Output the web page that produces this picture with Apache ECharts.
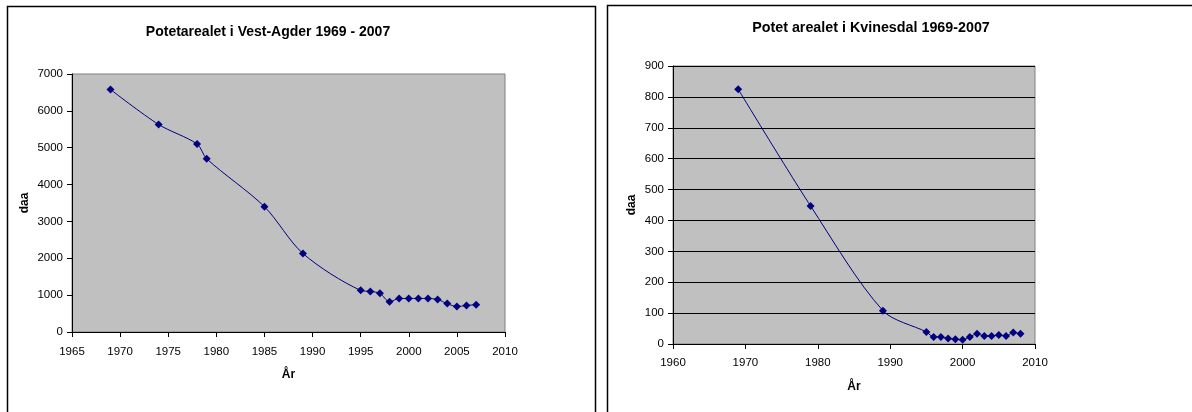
<!DOCTYPE html>
<html>
<head>
<meta charset="utf-8">
<script src="https://cdn.jsdelivr.net/npm/echarts@6/dist/echarts.min.js"></script>
<style>
html,body{margin:0;padding:0;background:#fff;}
#c{width:1192px;height:412px;}
</style>
</head>
<body>
<div id="c"></div>
<script>
// Vest-Agder
const yearsVA = [1969,1974,1978,1979,1985,1989,1995,1996,1997,1998,1999,2000,2001,2002,2003,2004,2005,2006,2007];
const valuesVA = [6580,5630,5100,4700,3400,2130,1130,1100,1050,820,910,910,910,910,880,770,690,720,740];
// Kvinesdal
const yearsKV = [1969,1979,1989,1995,1996,1997,1998,1999,2000,2001,2002,2003,2004,2005,2006,2007,2008];
const valuesKV = [825,447,108,39,23,23,18,15,14,23,33,26,26,29,26,37,33];

const titles = ['Potetarealet i Vest-Agder 1969 - 2007','Potet arealet i Kvinesdal 1969-2007'];
const yName = 'daa';
const xName = 'År';

const font = 'Arial, "Liberation Sans", sans-serif';
const chart = echarts.init(document.getElementById('c'));
const plain = v => String(v);
const axisLabel = {color:'#000', fontSize:11.5, fontFamily:font, formatter:plain};
const nameStyle = {color:'#000', fontSize:12, fontWeight:'bold', fontFamily:font};

chart.setOption({
  animation:false,
  title:[
    {text:titles[0], left:263, top:20, textAlign:'center', textStyle:{fontSize:14, fontWeight:'bold', color:'#000', fontFamily:font}},
    {text:titles[1], left:866, top:16, textAlign:'center', textStyle:{fontSize:14.3, fontWeight:'bold', color:'#000', fontFamily:font}}
  ],
  graphic:[
    {type:'rect', shape:{x:7.5,y:6.5,width:588,height:430}, style:{fill:'none',stroke:'#000',lineWidth:1.5}, z:-10},
    {type:'rect', shape:{x:607.5,y:5.5,width:600,height:430}, style:{fill:'none',stroke:'#000',lineWidth:1.5}, z:-10}
  ],
  grid:[
    {left:72, top:74, width:433, height:258, show:true, backgroundColor:'#c0c0c0', borderColor:'#808080', borderWidth:1},
    {left:673, top:66, width:362, height:278, show:true, backgroundColor:'#c0c0c0', borderColor:'#808080', borderWidth:1}
  ],
  xAxis:[
    {gridIndex:0, type:'value', min:1965, max:2010, interval:5,
     name:xName, nameLocation:'middle', nameGap:37, nameTextStyle:nameStyle,
     axisLine:{lineStyle:{color:'#000'}}, axisTick:{show:true, length:5, lineStyle:{color:'#000'}},
     axisLabel:Object.assign({margin:14}, axisLabel), splitLine:{show:false}},
    {gridIndex:1, type:'value', min:1960, max:2010, interval:10,
     name:xName, nameLocation:'middle', nameGap:37, nameTextStyle:nameStyle,
     axisLine:{lineStyle:{color:'#000'}}, axisTick:{show:true, length:5, lineStyle:{color:'#000'}},
     axisLabel:Object.assign({margin:13}, axisLabel), splitLine:{show:false}}
  ],
  yAxis:[
    {gridIndex:0, type:'value', min:0, max:7000, interval:1000,
     name:yName, nameLocation:'middle', nameGap:41, nameTextStyle:nameStyle,
     axisLine:{show:true, lineStyle:{color:'#000'}}, axisTick:{show:true, length:5, lineStyle:{color:'#000'}},
     axisLabel:Object.assign({margin:9}, axisLabel), splitLine:{show:false}},
    {gridIndex:1, type:'value', min:0, max:900, interval:100,
     name:yName, nameLocation:'middle', nameGap:35, nameTextStyle:nameStyle,
     axisLine:{show:true, lineStyle:{color:'#000'}}, axisTick:{show:true, length:5, lineStyle:{color:'#000'}},
     axisLabel:Object.assign({margin:9}, axisLabel), splitLine:{show:true, lineStyle:{color:'#000', width:1}}}
  ],
  series:[
    {type:'line', xAxisIndex:0, yAxisIndex:0, data:yearsVA.map((y,i)=>[y,valuesVA[i]]),
     smooth:0.3, symbol:'diamond', symbolSize:8, showAllSymbol:true,
     lineStyle:{color:'#000080', width:1}, itemStyle:{color:'#000080'}},
    {type:'line', xAxisIndex:1, yAxisIndex:1, data:yearsKV.map((y,i)=>[y,valuesKV[i]]),
     smooth:0.3, symbol:'diamond', symbolSize:8, showAllSymbol:true,
     lineStyle:{color:'#000080', width:1}, itemStyle:{color:'#000080'}}
  ]
});
</script>
</body>
</html>
